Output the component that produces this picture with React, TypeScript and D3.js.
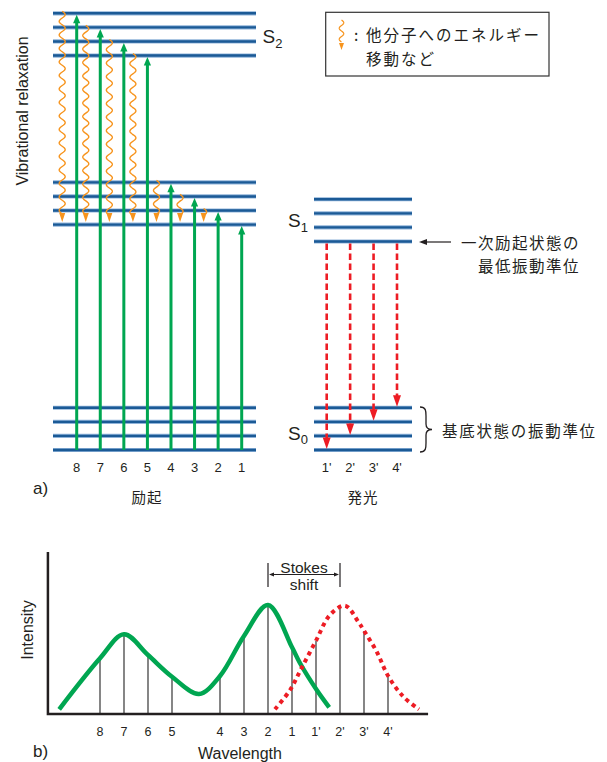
import React from 'react';
import * as d3 from 'd3';

// ---------- Data: Jablonski diagram ----------
const s0Levels = [0, 1, 2, 3];
const s1Levels = [16, 17, 18, 19];
const s2Levels = [28, 29, 30, 31];
const s1EmitLevels = [14.8, 15.8, 16.8, 17.8];
const excLabels = ['8', '7', '6', '5', '4', '3', '2', '1'];
const excTargets = [31, 30, 29, 28, 19, 18, 17, 16];
const relaxLabels = ['8', '7', '6', '5', '4', '3', '2'];
const relaxFrom = [31, 30, 29, 28, 19, 18, 17];
const relaxTo = 16;
const emLabels = ["1'", "2'", "3'", "4'"];
const emTargets = [0, 1, 2, 3];

// ---------- Data: spectrum ----------
const specLabels = ['8', '7', '6', '5', '4', '3', '2', '1', "1'", "2'", "3'", "4'"];
const specPos = [0, 1, 2, 3, 5, 6, 7, 8, 9, 10, 11, 12];
const specIntensity = [56, 80, 59, 37, 38, 78, 109, 67, 73, 108, 83, 38];
const absPos = [-1.7, 0, 1, 2, 3, 4.125, 5, 6, 7, 8, 8.33, 9.03, 9.55];
const absVal = [4.7, 55.7, 79.7, 59, 37.3, 20, 38, 78, 109, 66.7, 51, 24, 6.7];
const emPos = [7.29, 7.92, 8.4, 9, 9.58, 10.21, 10.76, 11, 11.53, 12, 12.64, 13.29];
const emVal = [4.7, 24, 46, 73.3, 99, 108.3, 92.3, 83.3, 62.3, 38.3, 17.3, 4.7];
const stokesFrom = 7;
const stokesTo = 10;

const LAT = "'Liberation Sans', Arial, 'Noto Sans CJK JP', sans-serif";
const JP = "'Noto Sans CJK JP', 'Liberation Sans', sans-serif";
const TXT = '#231f20';
const BLUE = '#1b5a96';
const BLUE_LIGHT = '#8fb3d9';
const GREEN = '#00a651';
const ORANGE = '#f7941d';
const RED = '#ed1c24';

function wavePoints(cx: number, y0: number, y1: number, amp = 3, period = 13.5): [number, number][] {
  const pts: [number, number][] = [];
  for (let y = y0; y <= y1; y += 0.5) {
    pts.push([cx + amp * Math.sin((2 * Math.PI * (y - y0)) / period), y]);
  }
  return pts;
}

const lineGen = d3.line<[number, number]>().x(d => d[0]).y(d => d[1]);

function Level({ x0, x1, y }: { x0: number; x1: number; y: number }) {
  return (
    <g>
      <line x1={x0} x2={x1} y1={y} y2={y} stroke={BLUE_LIGHT} strokeWidth={4.2} />
      <line x1={x0} x2={x1} y1={y} y2={y} stroke={BLUE} strokeWidth={2.4} />
    </g>
  );
}

export default function App() {
  const yE = d3.scaleLinear().domain([0, 31]).range([450, 13.3]);
  const xEx = d3.scalePoint<string>().domain(excLabels).range([76.7, 241.7]);
  const xEm = d3.scalePoint<string>().domain(emLabels).range([326.7, 397]);
  const left = [53, 256];
  const right = [314, 412];

  const xS = d3.scaleLinear().domain([0, 12]).range([100, 388]);
  const yS = d3.scaleLinear().domain([0, 162]).range([714, 552]);
  const curve = d3
    .line<[number, number]>()
    .x(d => xS(d[0]))
    .y(d => yS(d[1]))
    .curve(d3.curveCatmullRom.alpha(0.5));
  const absData: [number, number][] = absPos.map((p, i) => [p, absVal[i]]);
  const emData: [number, number][] = emPos.map((p, i) => [p, emVal[i]]);

  const sx1 = xS(stokesFrom);
  const sx2 = xS(stokesTo);

  const legendWave = wavePoints(341.5, 20, 42, 2.3, 11);

  return (
    <svg width={607} height={762} style={{ position: 'absolute', left: 0, top: 0, background: '#fff' }}>
      <rect x={0} y={0} width={607} height={762} fill="#fff" />
      {/* Energy levels */}
      {[...s0Levels, ...s1Levels, ...s2Levels].map((e, i) => (
        <Level key={'l' + i} x0={left[0]} x1={left[1]} y={yE(e)} />
      ))}
      {[...s0Levels, ...s1EmitLevels].map((e, i) => (
        <Level key={'r' + i} x0={right[0]} x1={right[1]} y={yE(e)} />
      ))}

      {/* Excitation arrows */}
      {excLabels.map((lab, i) => {
        const x = xEx(lab)!;
        const tip = yE(excTargets[i]) + 1.5;
        return (
          <g key={'ex' + lab}>
            <line x1={x} x2={x} y1={yE(0)} y2={tip + 6} stroke={GREEN} strokeWidth={3} />
            <polygon points={`${x},${tip} ${x - 3.6},${tip + 8.5} ${x + 3.6},${tip + 8.5}`} fill={GREEN} />
          </g>
        );
      })}

      {/* Vibrational relaxation waves */}
      {relaxLabels.map((lab, i) => {
        const cx = xEx(lab)! - 14.5;
        const y0 = yE(relaxFrom[i]) - 2;
        const tip = yE(relaxTo) - 2.5;
        const pts = wavePoints(cx, y0, tip - 7);
        const end = pts[pts.length - 1];
        return (
          <g key={'rw' + lab}>
            <path d={lineGen(pts)!} fill="none" stroke={ORANGE} strokeWidth={1.4} />
            <line x1={end[0]} y1={end[1]} x2={cx} y2={tip - 8} stroke={ORANGE} strokeWidth={1.4} />
            <polygon points={`${cx},${tip} ${cx - 3},${tip - 9} ${cx + 3},${tip - 9}`} fill={ORANGE} />
          </g>
        );
      })}

      {/* Emission arrows */}
      {emLabels.map((lab, i) => {
        const x = xEm(lab)!;
        const tip = yE(emTargets[i]) - 1;
        return (
          <g key={'em' + i}>
            <line x1={x} x2={x} y1={yE(14.8) + 2} y2={tip - 10} stroke={RED} strokeWidth={2.6} strokeDasharray="6.5,3.5" />
            <polygon points={`${x},${tip} ${x - 4},${tip - 11.5} ${x + 4},${tip - 11.5}`} fill={RED} />
          </g>
        );
      })}

      {/* Labels top */}
      <text
        transform="translate(22.5,111) rotate(-90)"
        textAnchor="middle"
        dominantBaseline="central"
        fontFamily={LAT}
        fontSize={16}
        fill={TXT}
      >
        Vibrational relaxation
      </text>
      <text x={262.5} y={43} fontFamily={LAT} fontSize={19} fill={TXT}>
        S<tspan fontSize={13} dy={4.5}>2</tspan>
      </text>
      <text x={288} y={227} fontFamily={LAT} fontSize={19} fill={TXT}>
        S<tspan fontSize={13} dy={4.5}>1</tspan>
      </text>
      <text x={288} y={440} fontFamily={LAT} fontSize={19} fill={TXT}>
        S<tspan fontSize={13} dy={4}>0</tspan>
      </text>
      {excLabels.map(lab => (
        <text key={'tl' + lab} x={xEx(lab)} y={467} textAnchor="middle" dominantBaseline="central" fontFamily={LAT} fontSize={13} fill={TXT}>
          {lab}
        </text>
      ))}
      {emLabels.map(lab => (
        <text key={'te' + lab} x={xEm(lab)} y={467} textAnchor="middle" dominantBaseline="central" fontFamily={LAT} fontSize={13} fill={TXT}>
          {lab}
        </text>
      ))}
      <text x={33} y={494} fontFamily={LAT} fontSize={17} fill={TXT}>a)</text>
      <text x={147} y={496} textAnchor="middle" dominantBaseline="central" fontFamily={JP} fontSize={14.5} letterSpacing={1} fill={TXT}>励起</text>
      <text x={363} y={496} textAnchor="middle" dominantBaseline="central" fontFamily={JP} fontSize={14.5} letterSpacing={1} fill={TXT}>発光</text>

      {/* Legend */}
      <rect x={325.7} y={12.3} width={223.3} height={63.7} fill="#fff" stroke="#333" strokeWidth={1.2} />
      <path d={lineGen(legendWave)!} fill="none" stroke={ORANGE} strokeWidth={1.2} />
      <polygon points={`341.5,50 339,43 344,43`} fill={ORANGE} />
      <text x={354} y={34} dominantBaseline="central" fontFamily={JP} fontSize={15.5} fill={TXT}>:</text>
      <text x={366} y={34} dominantBaseline="central" fontFamily={JP} fontSize={15.5} letterSpacing={2} fill={TXT}>他分子へのエネルギー</text>
      <text x={366} y={58} dominantBaseline="central" fontFamily={JP} fontSize={15.5} letterSpacing={2} fill={TXT}>移動など</text>

      {/* Annotation arrows right */}
      <line x1={451} x2={424} y1={242} y2={242} stroke={TXT} strokeWidth={1.2} />
      <polygon points={`419,242 427,239 427,245`} fill={TXT} />
      <text x={580} y={242} textAnchor="end" dominantBaseline="central" fontFamily={JP} fontSize={15.5} letterSpacing={1.5} fill={TXT}>一次励起状態の</text>
      <text x={580} y={265} textAnchor="end" dominantBaseline="central" fontFamily={JP} fontSize={15.5} letterSpacing={1.5} fill={TXT}>最低振動準位</text>
      <path
        d="M420,407 C426,407 426,411 426,416 L426,424 C426,428 428,429.5 432,429.5 C428,429.5 426,431 426,435 L426,443 C426,448 426,452 420,452"
        fill="none"
        stroke={TXT}
        strokeWidth={1.3}
      />
      <text x={442} y={430} dominantBaseline="central" fontFamily={JP} fontSize={15.5} letterSpacing={1.7} fill={TXT}>基底状態の振動準位</text>

      {/* Spectrum */}
      {specPos.map((p, i) => (
        <line key={'st' + i} x1={xS(p)} x2={xS(p)} y1={yS(0)} y2={yS(specIntensity[i])} stroke="#444" strokeWidth={1.3} />
      ))}
      <path d={curve(absData)!} fill="none" stroke={GREEN} strokeWidth={4.5} />
      <path d={curve(emData)!} fill="none" stroke={RED} strokeWidth={4} strokeDasharray="4,4" />
      <path d={`M${xS(-2.17)},${yS(162)} V${yS(0)} H${xS(13.67)}`} fill="none" stroke={TXT} strokeWidth={2.5} />
      {specPos.map((p, i) => (
        <text key={'sl' + i} x={xS(p)} y={731.5} textAnchor="middle" dominantBaseline="central" fontFamily={LAT} fontSize={12.5} fill={TXT}>
          {specLabels[i]}
        </text>
      ))}

      {/* Stokes shift */}
      <line x1={sx1} x2={sx1} y1={563} y2={587} stroke={TXT} strokeWidth={1.2} />
      <line x1={sx2} x2={sx2} y1={563} y2={587} stroke={TXT} strokeWidth={1.2} />
      <line x1={sx1 + 4} x2={sx2 - 4} y1={574.5} y2={574.5} stroke={TXT} strokeWidth={1} />
      <polygon points={`${sx1 + 1},574.5 ${sx1 + 6},572.5 ${sx1 + 6},576.5`} fill={TXT} />
      <polygon points={`${sx2 - 1},574.5 ${sx2 - 6},572.5 ${sx2 - 6},576.5`} fill={TXT} />
      <text x={(sx1 + sx2) / 2} y={572.5} textAnchor="middle" fontFamily={LAT} fontSize={15.5} fill={TXT}>Stokes</text>
      <text x={(sx1 + sx2) / 2} y={589.5} textAnchor="middle" fontFamily={LAT} fontSize={15.5} fill={TXT}>shift</text>

      <text
        transform="translate(27,630) rotate(-90)"
        textAnchor="middle"
        dominantBaseline="central"
        fontFamily={LAT}
        fontSize={16}
        fill={TXT}
      >
        Intensity
      </text>
      <text x={240} y={759} textAnchor="middle" fontFamily={LAT} fontSize={16} fill={TXT}>Wavelength</text>
      <text x={33} y={757} fontFamily={LAT} fontSize={17} fill={TXT}>b)</text>
    </svg>
  );
}
